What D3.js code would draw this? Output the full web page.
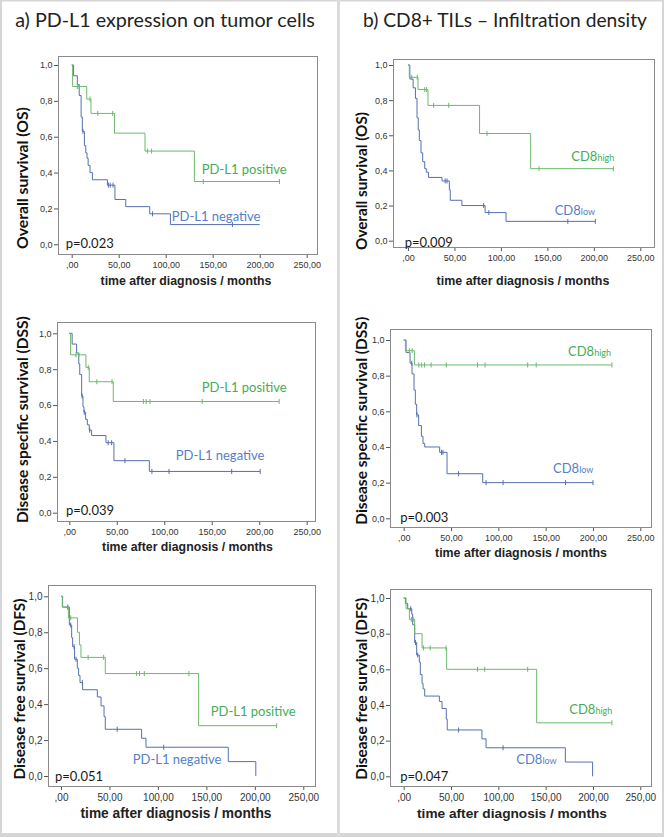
<!DOCTYPE html>
<html><head><meta charset="utf-8">
<script src="https://cdn.jsdelivr.net/npm/d3@7/dist/d3.min.js"></script>
<style>
html,body{margin:0;padding:0;background:#fff;}
svg{display:block;}
</style></head>
<body>
<svg id="chart" width="664" height="837"></svg>
<script>
// ---------- text / ticks ----------
const xTickValues = [0, 50, 100, 150, 200, 250];
const xTickLabels = [",00", "50,00", "100,00", "150,00", "200,00", "250,00"];
const yTickValues = [0, 0.2, 0.4, 0.6, 0.8, 1.0];
const yTickLabels = ["0,0", "0,2", "0,4", "0,6", "0,8", "1,0"];
const columnTitles = ["a) PD-L1 expression on tumor cells", "b) CD8+ TILs \u2013 Infiltration density"];
const yAxisTitles = ["Overall survival (OS)", "Disease specific survival (DSS)", "Disease free survival (DFS)"];
const xAxisTitle = "time after diagnosis / months";
const pValues = ["p=0.023", "p=0.009", "p=0.039", "p=0.003", "p=0.051", "p=0.047"];
const groupLabelsA = ["PD-L1 positive", "PD-L1 negative"];
const groupLabelsB = [["CD8", "high"], ["CD8", "low"]];

// ---------- survival data (event times, survival after event, censor times, end of follow-up) ----------
// a) OS
const osPosT = [1, 16, 20.5, 45.5, 78, 130.5];
const osPosS = [0.88, 0.81, 0.73, 0.62, 0.52, 0.35];
const osPosC = [6, 8, 19.5, 27.7, 43.6, 80.5, 85, 140, 221];
const osPosEnd = 221;
const osNegT = [2, 6, 8, 10, 11.3, 13.5, 15, 16.3, 17.5, 19.5, 22, 38, 46, 57.5, 83, 105];
const osNegS = [0.94, 0.89, 0.83, 0.71, 0.63, 0.55, 0.51, 0.48, 0.44, 0.40, 0.36, 0.33, 0.25, 0.21, 0.17, 0.11];
const osNegC = [12, 39, 41, 44, 86, 171];
const osNegEnd = 200;
// b) OS
const osHighT = [1.4, 10.8, 21.5, 77, 132];
const osHighS = [0.93, 0.86, 0.77, 0.61, 0.41];
const osHighC = [4, 10, 18, 20, 27.6, 43.8, 85, 141, 221];
const osHighEnd = 221;
const osLowT = [2, 5.5, 8, 9.7, 11, 12.2, 14, 15.8, 18, 19.7, 22, 36.6, 44.5, 45.5, 58, 83, 105.5];
const osLowS = [0.92, 0.87, 0.81, 0.70, 0.63, 0.57, 0.50, 0.45, 0.41, 0.39, 0.36, 0.34, 0.29, 0.23, 0.20, 0.16, 0.11];
const osLowC = [40, 42, 81.4, 87, 172, 201.6];
const osLowEnd = 201.6;
// a) DSS
const dssPosT = [1.4, 17.5, 21, 46.3];
const dssPosS = [0.88, 0.81, 0.73, 0.62];
const dssPosC = [7, 10, 20, 29, 45, 78, 81, 85, 140, 221];
const dssPosEnd = 221;
const dssNegT = [3, 7.7, 10, 11, 13, 14.4, 15.4, 17.2, 19, 21, 23.5, 38.6, 47, 84.3];
const dssNegS = [0.94, 0.89, 0.83, 0.77, 0.65, 0.59, 0.56, 0.52, 0.49, 0.46, 0.43, 0.39, 0.29, 0.23];
const dssNegC = [13.5, 15.8, 21.5, 41, 44.6, 58.6, 87, 105, 171, 201];
const dssNegEnd = 201;
// b) DSS
const dssHighT = [1.8, 11.3];
const dssHighS = [0.94, 0.86];
const dssHighC = [6, 9, 16, 19, 22, 29, 45, 78, 86, 131, 140, 220];
const dssHighEnd = 220;
const dssLowT = [2.5, 6.7, 8.8, 10.9, 12.3, 13.7, 15.8, 18.7, 20.4, 22.2, 38, 45.8, 83.5];
const dssLowS = [0.93, 0.87, 0.81, 0.72, 0.64, 0.58, 0.52, 0.46, 0.42, 0.40, 0.37, 0.25, 0.20];
const dssLowC = [8.5, 14, 40, 41.5, 58, 87, 105, 171, 200];
const dssLowEnd = 200;
// a) DFS
const dfsPosT = [1.7, 7.6, 17, 19, 20.6, 45.7, 142];
const dfsPosS = [0.94, 0.88, 0.80, 0.73, 0.66, 0.57, 0.28];
const dfsPosC = [10, 28, 44, 78, 81, 86, 132, 222.5];
const dfsPosEnd = 222.5;
const dfsNegT = [1.4, 8.6, 11, 12, 14, 16.8, 18.2, 19.6, 22.3, 37.5, 41.3, 44.4, 45.7, 83.2, 87.7, 172.6, 201];
const dfsNegS = [0.94, 0.84, 0.77, 0.72, 0.65, 0.60, 0.56, 0.52, 0.48, 0.44, 0.39, 0.33, 0.26, 0.21, 0.16, 0.08, 0.0];
const dfsNegC = [7, 10, 13.5, 15.5, 22, 58, 106];
const dfsNegEnd = 201;
// b) DFS
const dfsHighT = [2.5, 6, 11.6, 19.4, 45.4, 140.5];
const dfsHighS = [0.94, 0.88, 0.80, 0.72, 0.60, 0.30];
const dfsHighC = [8, 10, 21, 28, 44.7, 78, 85.6, 131, 220];
const dfsHighEnd = 220;
const dfsLowT = [1.8, 4.2, 8.5, 9.5, 11.6, 13.7, 16.5, 17.6, 19.4, 20.5, 22.2, 37.7, 40.5, 45, 46, 82.7, 87, 170.8, 199.6];
const dfsLowS = [0.97, 0.94, 0.91, 0.85, 0.75, 0.68, 0.64, 0.57, 0.52, 0.49, 0.45, 0.42, 0.38, 0.32, 0.26, 0.21, 0.16, 0.08, 0.0];
const dfsLowC = [7.4, 12.5, 14.8, 58, 105];
const dfsLowEnd = 199.6;

// ---------- styles ----------
const GREEN_LINE = "#6bb96b", GREEN_TEXT = "#45ad55";
const BLUE_LINE = "#566fb0", BLUE_TEXT = "#5580c6";
const FRAME = "#8a8a8a";
const BORDER = "#d6d6d6";
const CAL = "Lato, 'Open Sans', sans-serif";
const ARIAL = "'Liberation Sans', Arial, sans-serif";

// ---------- layout (pixels) ----------
const panels = [
  {col:0, row:0, box:[58,56,317,254], xr:[71.7,306.7], yr:[244.3,65], yT:{x:28, cy:178, w:142}, xT:{cx:186, y:285, w:171}, tick:9, tp:3.5, p:[65.7,248],
   curves:[[osNegT,osNegS,osNegC,osNegEnd,1],[osPosT,osPosS,osPosC,osPosEnd,0]], lab:[[201.7,174],[171.7,220.7]]},
  {col:1, row:0, box:[393,59,654,247], xr:[408,640.3], yr:[240.7,65], yT:{x:367, cy:181, w:138}, xT:{cx:523, y:285, w:173}, tick:9, tp:3.5, p:[404.7,246.7],
   curves:[[osLowT,osLowS,osLowC,osLowEnd,1],[osHighT,osHighS,osHighC,osHighEnd,0]], lab:[[571.3,160.7],[554.7,215]]},
  {col:0, row:1, box:[57,322,315,521], xr:[69.3,306.7], yr:[512.7,333.3], yT:{x:28, cy:419.7, w:207}, xT:{cx:187.5, y:551, w:171}, tick:9, tp:3.5, p:[66,515],
   curves:[[dssNegT,dssNegS,dssNegC,dssNegEnd,1],[dssPosT,dssPosS,dssPosC,dssPosEnd,0]], lab:[[201.7,391.7],[175.7,460.3]]},
  {col:1, row:1, box:[390,329,651,527], xr:[403.7,640.3], yr:[518.3,340], yT:{x:367, cy:420.8, w:208}, xT:{cx:521, y:557, w:172}, tick:9, tp:3.5, p:[400.3,521.7],
   curves:[[dssLowT,dssLowS,dssLowC,dssLowEnd,1],[dssHighT,dssHighS,dssHighC,dssHighEnd,0]], lab:[[568,356],[553,473.3]]},
  {col:0, row:2, box:[48,585,315,786], xr:[61,303.3], yr:[776,596.3], yT:{x:25, cy:689, w:181}, xT:{cx:176, y:818, w:191}, tick:10, tp:4, p:[55,781],
   curves:[[dfsNegT,dfsNegS,dfsNegC,dfsNegEnd,1],[dfsPosT,dfsPosS,dfsPosC,dfsPosEnd,0]], lab:[[210.7,716],[132.7,764.3]]},
  {col:1, row:2, box:[390,589,651,786], xr:[403.7,640.3], yr:[776.3,598], yT:{x:367, cy:688.7, w:182}, xT:{cx:512, y:818, w:190}, tick:10, tp:4, p:[400.3,781],
   curves:[[dfsLowT,dfsLowS,dfsLowC,dfsLowEnd,1],[dfsHighT,dfsHighS,dfsHighC,dfsHighEnd,0]], lab:[[569.3,714.3],[516.3,764.3]]}
];
const titleLayout = [{cx:165, y:27, w:300}, {cx:505, y:27, w:284}];

const svg = d3.select("#chart");
svg.append("rect").attr("x",0).attr("y",0).attr("width",664).attr("height",837).attr("fill","#fff");

function fit(sel, w) {
  const cur = sel.node().getComputedTextLength();
  const fs = parseFloat(sel.attr("font-size"));
  if (cur > 0) sel.attr("font-size", (fs * w / cur).toFixed(2));
}

// outer frame & divider
svg.append("rect").attr("x",1).attr("y",0.5).attr("width",662).attr("height",834)
  .attr("fill","none").attr("stroke",BORDER).attr("stroke-width",2);
svg.append("rect").attr("x",0).attr("y",833).attr("width",664).attr("height",4).attr("fill",BORDER);
svg.append("rect").attr("x",337).attr("y",0).attr("width",3).attr("height",837).attr("fill","#dcdcdc");

// column titles
columnTitles.forEach((t,i) => {
  const L = titleLayout[i];
  const tx = svg.append("text").attr("x",L.cx).attr("y",L.y).attr("text-anchor","middle")
    .attr("font-family",CAL).attr("font-size",20).attr("fill","#222").text(t);
  fit(tx, L.w);
});

const survAt = (T, S, c) => { let s = 1; for (let i = 0; i < T.length; i++) { if (T[i] <= c) s = S[i]; } return s; };

panels.forEach((P, pi) => {
  const g = svg.append("g");
  const [bx0, by0, bx1, by1] = P.box;
  const x = d3.scaleLinear().domain([0,250]).range(P.xr);
  const y = d3.scaleLinear().domain([0,1]).range(P.yr);

  // axes
  const ax = g.append("g").attr("transform",`translate(0,${by1})`)
    .call(d3.axisBottom(x).tickValues(xTickValues).tickFormat((d,i)=>xTickLabels[i]).tickSize(4).tickPadding(P.tp));
  const ay = g.append("g").attr("transform",`translate(${bx0},0)`)
    .call(d3.axisLeft(y).tickValues(yTickValues).tickFormat((d,i)=>yTickLabels[i]).tickSize(4).tickPadding(1.5));
  [ax, ay].forEach(a => {
    a.select(".domain").remove();
    a.selectAll("line").attr("stroke","#555");
    a.selectAll("text").attr("font-family",ARIAL).attr("font-size",P.tick).attr("fill","#333");
  });

  // frame
  g.append("rect").attr("x",bx0+0.5).attr("y",by0+0.5).attr("width",bx1-bx0).attr("height",by1-by0)
    .attr("fill","none").attr("stroke",FRAME).attr("stroke-width",1);

  // curves
  const line = d3.line().x(d=>x(d[0])).y(d=>y(d[1])).curve(d3.curveStepAfter);
  P.curves.forEach(([T,S,C,end,grp]) => {
    const col = grp === 0 ? GREEN_LINE : BLUE_LINE;
    const pts = [[0,1]].concat(T.map((t,i)=>[t,S[i]]));
    pts.push([end, S[S.length-1]]);
    g.append("path").attr("d", line(pts)).attr("fill","none").attr("stroke",col).attr("stroke-width",1);
    g.selectAll(null).data(C).enter().append("line")
      .attr("x1",c=>x(c)).attr("x2",c=>x(c))
      .attr("y1",c=>y(survAt(T,S,c))-2.5).attr("y2",c=>y(survAt(T,S,c))+2.5)
      .attr("stroke",col).attr("stroke-width",1);
  });

  // group labels
  if (P.col === 0) {
    groupLabelsA.forEach((t,i) => {
      g.append("text").attr("x",P.lab[i][0]).attr("y",P.lab[i][1]).attr("font-family",CAL).attr("font-size",13)
        .attr("fill", i===0 ? GREEN_TEXT : BLUE_TEXT).text(t);
    });
  } else {
    groupLabelsB.forEach((t,i) => {
      const tx = g.append("text").attr("x",P.lab[i][0]).attr("y",P.lab[i][1]).attr("font-family",CAL)
        .attr("fill", i===0 ? GREEN_TEXT : BLUE_TEXT);
      tx.append("tspan").attr("font-size",13).text(t[0]);
      tx.append("tspan").attr("font-size",9).text(t[1]);
    });
  }

  // p value
  g.append("text").attr("x",P.p[0]).attr("y",P.p[1]).attr("font-family",CAL).attr("font-size",13)
    .attr("fill","#1a1a1a").text(pValues[pi]);

  // y title
  const yt = g.append("text").attr("transform",`translate(${P.yT.x},${P.yT.cy}) rotate(-90)`)
    .attr("text-anchor","middle").attr("font-family",CAL).attr("font-weight","bold").attr("font-size",16)
    .attr("fill","#111").text(yAxisTitles[P.row]);
  fit(yt, P.yT.w);

  // x title
  const xt = g.append("text").attr("x",P.xT.cx).attr("y",P.xT.y).attr("text-anchor","middle")
    .attr("font-family",ARIAL).attr("font-weight","bold").attr("font-size",12).attr("fill","#222").text(xAxisTitle);
  fit(xt, P.xT.w);
});
</script>
</body></html>
